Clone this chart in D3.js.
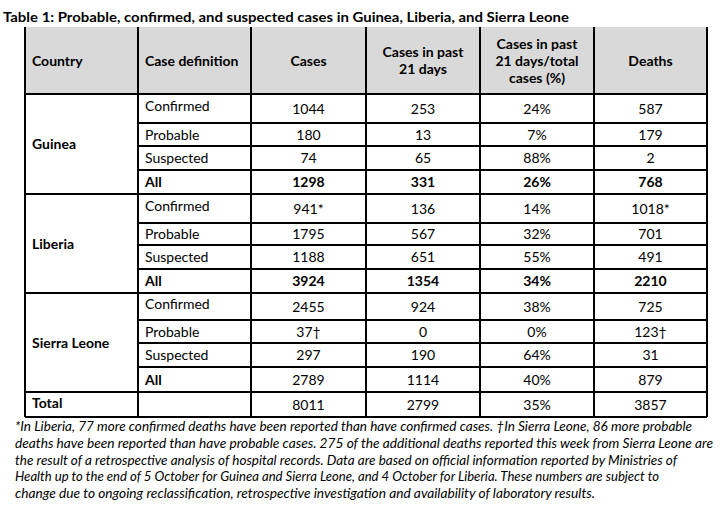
<!DOCTYPE html>
<html><head><meta charset="utf-8">
<script src="https://cdn.jsdelivr.net/npm/d3@7"></script>
<style>body{margin:0;background:#fff}svg{display:block}</style>
</head><body><svg id="tbl" width="721" height="513"></svg>
<script>
var title = "Table 1: Probable, confirmed, and suspected cases in Guinea, Liberia, and Sierra Leone";
var headers = ["Country", "Case definition", "Cases", ["Cases in past", "21 days"], ["Cases in past", "21 days/total", "cases (%)"], "Deaths"];
var countries = ["Guinea", "Liberia", "Sierra Leone"];
var caseDefs = ["Confirmed", "Probable", "Suspected", "All"];
var cases = [[1044, 180, 74, 1298], [941, 1795, 1188, 3924], [2455, 37, 297, 2789]];
var casesMarks = [["", "", "", ""], ["*", "", "", ""], ["", "†", "", ""]];
var cases21 = [[253, 13, 65, 331], [136, 567, 651, 1354], [924, 0, 190, 1114]];
var pct = [[24, 7, 88, 26], [14, 32, 55, 34], [38, 0, 64, 40]];
var deaths = [[587, 179, 2, 768], [1018, 701, 491, 2210], [725, 123, 31, 879]];
var deathsMarks = [["", "", "", ""], ["*", "", "", ""], ["", "†", "", ""]];
var allBold = [true, true, false];
var total = {cases: 8011, cases21: 2799, pct: 35, deaths: 3857};
var footnote = [
  "*In Liberia, 77 more confirmed deaths have been reported than have confirmed cases.  †In Sierra Leone, 86 more probable",
  "deaths have been reported than have probable cases. 275 of the additional deaths reported this week from Sierra Leone are",
  "the result of a retrospective analysis of hospital records.  Data are based on official information reported by Ministries of",
  "Health up to the end of 5 October for Guinea and Sierra Leone, and 4 October for Liberia. These numbers are subject to",
  "change due to ongoing reclassification, retrospective investigation and availability of laboratory results."
];
var footWidths = [677, 698, 662, 644, 580];

// layout
var colX = [25, 138, 251, 366, 480, 594, 707];
var headTop = 27, headBot = 94;
var rowY = [[94, 123, 146, 170, 194], [194, 223, 245, 269, 293], [293, 320, 343, 367, 392]];
var totalY = [392, 417];
var font = "Lato,'Open Sans',sans-serif";

var svg = d3.select("#tbl");
var g = svg.append("g").style("font-family", font).style("font-size", "14px").attr("fill", "#000");

g.append("text").attr("x", 3).attr("y", 22).attr("font-weight", "bold").attr("font-size", "14px")
  .attr("textLength", 566).attr("lengthAdjust", "spacingAndGlyphs").text(title);

g.append("rect").attr("x", colX[0]).attr("y", headTop).attr("width", colX[6] - colX[0]).attr("height", headBot - headTop).attr("fill", "#d9d9d9");

function cell(x0, x1, y0, y1, txt, opt) {
  opt = opt || {};
  var lines = Array.isArray(txt) ? txt : [txt];
  var lh = 17, cy = (y0 + y1) / 2 - (lines.length - 1) * lh / 2 + 5;
  lines.forEach(function (l, i) {
    g.append("text")
      .attr("x", opt.left ? x0 + 7 : (x0 + x1) / 2)
      .attr("y", cy + i * lh)
      .attr("text-anchor", opt.left ? "start" : "middle")
      .attr("font-weight", opt.bold ? "bold" : null)
      .text(l);
  });
}

headers.forEach(function (h, i) {
  cell(colX[i], colX[i + 1], headTop, headBot, h, {left: i < 2, bold: true});
});

countries.forEach(function (c, ci) {
  var ys = rowY[ci];
  cell(colX[0], colX[1], ys[0], ys[4], c, {left: true, bold: true});
  caseDefs.forEach(function (d, ri) {
    var y0 = ys[ri], y1 = ys[ri + 1], isAll = ri === 3;
    var b = isAll && allBold[ci];
    cell(colX[1], colX[2], y0 - (ri === 0 ? 6 : 0), y1, d, {left: true, bold: isAll});
    cell(colX[2], colX[3], y0, y1, cases[ci][ri] + casesMarks[ci][ri], {bold: b});
    cell(colX[3], colX[4], y0, y1, String(cases21[ci][ri]), {bold: b});
    cell(colX[4], colX[5], y0, y1, pct[ci][ri] + "%", {bold: b});
    cell(colX[5], colX[6], y0, y1, deaths[ci][ri] + deathsMarks[ci][ri], {bold: b});
  });
});
cell(colX[0], colX[1], totalY[0] - 4, totalY[1], "Total", {left: true, bold: true});
cell(colX[2], colX[3], totalY[0], totalY[1], String(total.cases));
cell(colX[3], colX[4], totalY[0], totalY[1], String(total.cases21));
cell(colX[4], colX[5], totalY[0], totalY[1], total.pct + "%");
cell(colX[5], colX[6], totalY[0], totalY[1], String(total.deaths));

// grid lines
var lines = g.append("g").attr("stroke", "#000").attr("stroke-width", 1.2).attr("shape-rendering", "crispEdges");
colX.forEach(function (x) {
  lines.append("line").attr("x1", x).attr("x2", x).attr("y1", headTop).attr("y2", totalY[1]);
});
lines.append("line").attr("x1", colX[0]).attr("x2", colX[6]).attr("y1", headBot).attr("y2", headBot);
rowY.forEach(function (ys) {
  ys.slice(1, 4).forEach(function (y) {
    lines.append("line").attr("x1", colX[1]).attr("x2", colX[6]).attr("y1", y).attr("y2", y);
  });
  lines.append("line").attr("x1", colX[0]).attr("x2", colX[6]).attr("y1", ys[4]).attr("y2", ys[4]);
});
lines.append("line").attr("x1", colX[0]).attr("x2", colX[6]).attr("y1", totalY[1]).attr("y2", totalY[1]);

footnote.forEach(function (l, i) {
  g.append("text").attr("x", 15).attr("y", 431 + i * 16.8).attr("font-style", "italic").attr("font-size", "13px")
    .attr("textLength", footWidths[i]).attr("lengthAdjust", "spacingAndGlyphs").text(l);
});
</script></body></html>
